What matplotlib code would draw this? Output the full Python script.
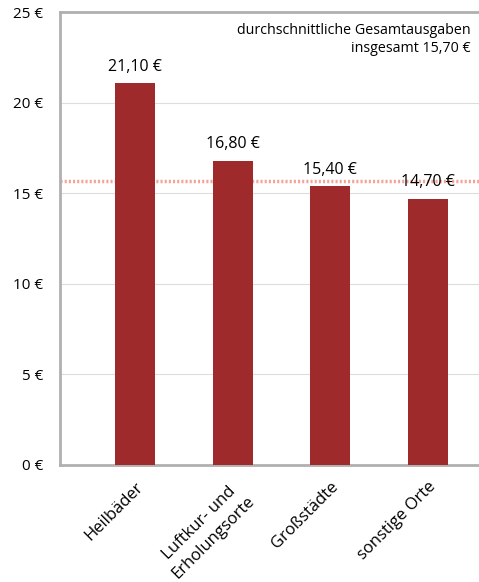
import numpy as np
import matplotlib.pyplot as plt

plt.rcParams['font.family'] = ['Open Sans', 'DejaVu Sans']

categories = ['Heilbäder', 'Luftkur- und\nErholungsorte', 'Großstädte', 'sonstige Orte']
values = [21.10, 16.80, 15.40, 14.70]
labels = ['21,10 €', '16,80 €', '15,40 €', '14,70 €']
average = 15.70
yticks = [0, 5, 10, 15, 20, 25]

fig = plt.figure(figsize=(4.79, 5.82), dpi=100)
ax = fig.add_axes([60 / 479, 1 - 465 / 582, 1 - 60 / 479, (465 - 12) / 582])

x = np.arange(len(categories))
ax.bar(x, values, width=0.41, color='#9f2a2c', zorder=3)
for xi, v, lab in zip(x, values, labels):
    ax.text(xi, v + 0.45, lab, ha='center', va='bottom', fontsize=11.5, zorder=4)

ax.axhline(average, color='#f3a497', linestyle=(0, (0.6, 0.6)), linewidth=2.5, zorder=2)

ax.set_xlim(-0.765, 3.52)
ax.set_ylim(0, 25)
ax.set_yticks(yticks)
ax.set_yticklabels([f'{t} €' for t in yticks], fontsize=11)
ax.yaxis.grid(True, color='#dddddd', linewidth=0.8, zorder=0)
ax.tick_params(axis='y', length=0, pad=12)

ax.set_xticks(x)
ax.set_xticklabels(categories, rotation=45, ha='right', rotation_mode='anchor',
                   fontsize=12, multialignment='center', linespacing=1.3)
ax.tick_params(axis='x', length=0, pad=10)

for side in ['left', 'top', 'bottom']:
    ax.spines[side].set_color('#b0b0b0')
    ax.spines[side].set_linewidth(2)
ax.spines['right'].set_visible(False)

ax.text(0.98, 0.975, 'durchschnittliche Gesamtausgaben\ninsgesamt 15,70 €',
        transform=ax.transAxes, ha='right', va='top', fontsize=10.3,
        linespacing=1.2, multialignment='right')

plt.savefig('out.png', dpi=100)
